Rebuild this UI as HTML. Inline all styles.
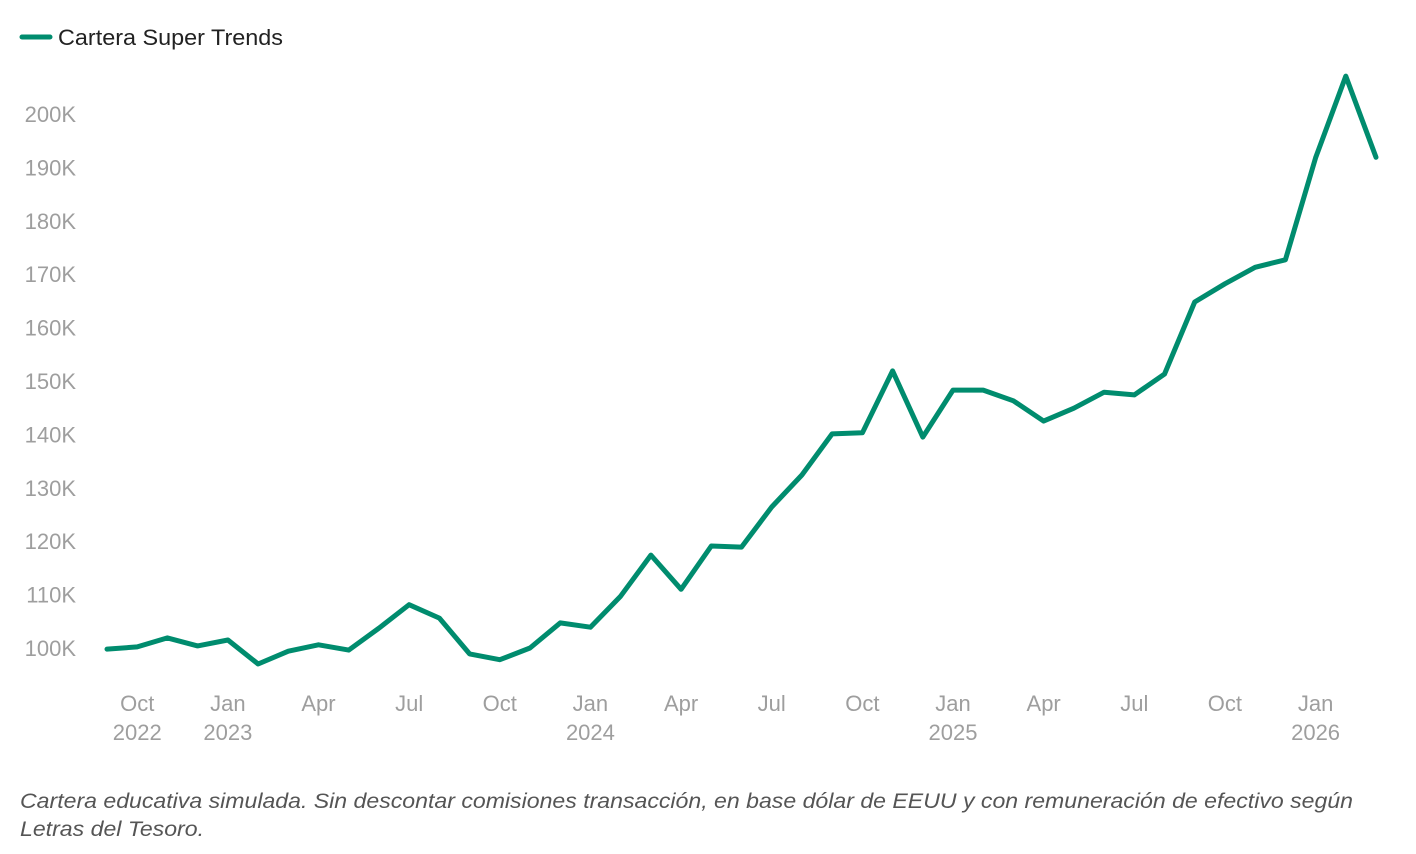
<!DOCTYPE html>
<html><head><meta charset="utf-8"><style>
html,body{margin:0;padding:0;background:#fff;}
body{width:1416px;height:849px;overflow:hidden;font-family:"Liberation Sans",sans-serif;}
svg text{font-family:"Liberation Sans",sans-serif;}
</style></head><body>
<svg id="chart" width="1416" height="849" viewBox="0 0 1416 849" xmlns="http://www.w3.org/2000/svg">
<g>
<line x1="22" y1="37" x2="50" y2="37" stroke="#008c6e" stroke-width="5" stroke-linecap="round"/>
<text x="58" y="45" font-size="22" fill="#222" textLength="225" lengthAdjust="spacingAndGlyphs">Cartera Super Trends</text>
</g>
<g id="yaxis"></g>
<g id="xaxis"></g>
<g id="series"></g>
<text x="20" y="808" font-size="21" font-style="italic" fill="#555" textLength="1333" lengthAdjust="spacingAndGlyphs">Cartera educativa simulada. Sin descontar comisiones transacción, en base dólar de EEUU y con remuneración de efectivo según</text>
<text x="20" y="836" font-size="21" font-style="italic" fill="#555" textLength="184" lengthAdjust="spacingAndGlyphs">Letras del Tesoro.</text>
</svg>
<script>
const values = [99.8,100.2,101.9,100.4,101.5,97.0,99.4,100.6,99.6,103.7,108.1,105.6,98.9,97.8,100.0,104.7,103.9,109.7,117.4,111.0,119.1,118.9,126.4,132.4,140.1,140.3,151.9,139.5,148.3,148.3,146.3,142.5,144.9,147.9,147.4,151.3,164.8,168.2,171.3,172.7,191.8,207.1,191.9];
const yTicks = [100,110,120,130,140,150,160,170,180,190,200];
const xTickIndex = [1,4,7,10,13,16,19,22,25,28,31,34,37,40];
const xTickMonth = ["Oct","Jan","Apr","Jul","Oct","Jan","Apr","Jul","Oct","Jan","Apr","Jul","Oct","Jan"];
const xTickYear = ["2022","2023","","","","2024","","","","2025","","","","2026"];

const NS="http://www.w3.org/2000/svg";
function xs(i){return 107 + i*(1376-107)/42;}
function ys(v){return 648 - (v-100)*5.34;}

const ya=document.getElementById('yaxis');
yTicks.forEach(t=>{
  const el=document.createElementNS(NS,'text');
  
  
  el.setAttribute('x',76);el.setAttribute('y',ys(t)+8);
  el.setAttribute('text-anchor','end');el.setAttribute('font-size','22');el.setAttribute('fill','#9e9e9e');
  el.textContent=t+'K';ya.appendChild(el);
});
const xa=document.getElementById('xaxis');
xTickIndex.forEach((idx,k)=>{
  const el=document.createElementNS(NS,'text');
  
  
  el.setAttribute('x',xs(idx));el.setAttribute('y',711);
  el.setAttribute('text-anchor','middle');el.setAttribute('font-size','22');el.setAttribute('fill','#9e9e9e');
  el.textContent=xTickMonth[k];xa.appendChild(el);
  if(xTickYear[k]){
    const e2=document.createElementNS(NS,'text');
    
    
    e2.setAttribute('x',xs(idx));e2.setAttribute('y',740);
    e2.setAttribute('text-anchor','middle');e2.setAttribute('font-size','22');e2.setAttribute('fill','#9e9e9e');
    e2.textContent=xTickYear[k];xa.appendChild(e2);
  }
});
const p=document.createElementNS(NS,'polyline');


p.setAttribute('points',values.map((v,i)=>xs(i).toFixed(1)+','+ys(v).toFixed(1)).join(' '));
p.setAttribute('fill','none');p.setAttribute('stroke','#008c6e');p.setAttribute('stroke-width','5');
p.setAttribute('stroke-linejoin','round');p.setAttribute('stroke-linecap','round');
document.getElementById('series').appendChild(p);
</script>
</body></html>
